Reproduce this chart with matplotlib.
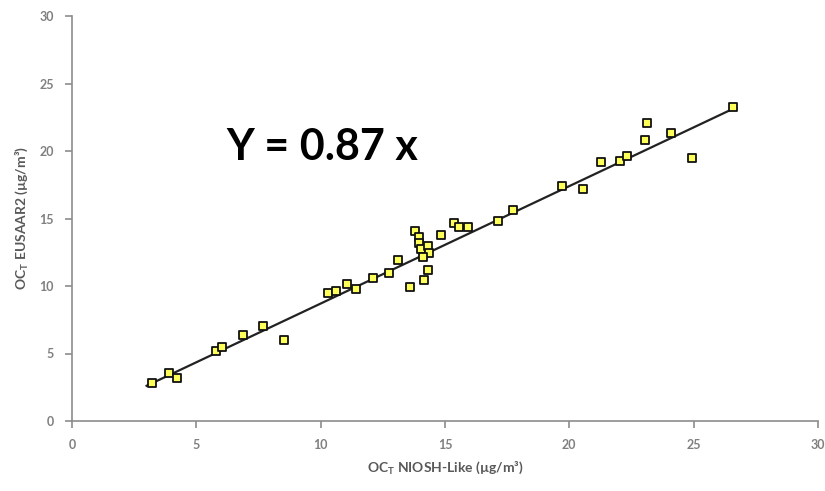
import matplotlib
matplotlib.use("Agg")
import matplotlib.pyplot as plt
import numpy as np

x_niosh = [3.23, 3.91, 4.24, 5.79, 6.02, 6.86, 7.69, 8.54, 10.31, 10.61, 11.04, 11.42,
           12.09, 12.75, 13.12, 13.59, 13.79, 13.95, 13.96, 14.02, 14.33, 14.37, 14.10,
           14.33, 14.15, 14.82, 15.36, 15.56, 15.94, 17.15, 17.72, 19.69, 20.53, 21.27,
           22.03, 22.33, 23.06, 23.14, 24.08, 24.94, 26.59]
y_eusaar = [2.78, 3.55, 3.18, 5.20, 5.50, 6.40, 7.05, 6.00, 9.45, 9.62, 10.15, 9.75,
            10.60, 11.00, 11.90, 9.90, 14.10, 13.65, 13.20, 12.75, 13.00, 12.45, 12.15,
            11.15, 10.45, 13.80, 14.65, 14.35, 14.35, 14.78, 15.65, 17.40, 17.20, 19.20,
            19.25, 19.60, 20.85, 22.10, 21.30, 19.45, 23.25]
slope = 0.87
fit_range = [3.0, 26.7]

ticks = [0, 5, 10, 15, 20, 25, 30]

fig = plt.figure(figsize=(8.25, 4.91), dpi=100)
ax = fig.add_axes([72/825, 70/491, 746/825, 405/491])

fx = np.array(fit_range)
ax.plot(fx, slope * fx, color="#222222", lw=1.6, zorder=2)
ax.scatter(x_niosh, y_eusaar, marker="s", s=34, facecolor="#ffff5a",
           edgecolor="#111111", linewidth=1.3, zorder=3)

ax.set_xlim(0, 30)
ax.set_ylim(0, 30)
ax.set_xticks(ticks)
ax.set_yticks(ticks)
for s in ["top", "right"]:
    ax.spines[s].set_visible(False)
for s in ["left", "bottom"]:
    ax.spines[s].set_color("#8c8c8c")
    ax.spines[s].set_linewidth(1.2)
ax.tick_params(axis="both", direction="out", length=5, width=1.2, color="#8c8c8c",
               labelcolor="#808080", labelsize=9)
for lab in ax.get_xticklabels() + ax.get_yticklabels():
    lab.set_fontweight("bold")
    lab.set_family("Lato")
ax.tick_params(axis="x", pad=8)
ax.tick_params(axis="y", pad=8)

ax.set_xlabel("OC$_\\mathregular{T}$ NIOSH-Like (µg/m³)", fontsize=10, fontweight="bold",
              color="#595959", family="Lato", labelpad=6)
ax.set_ylabel("OC$_\\mathregular{T}$ EUSAAR2 (µg/m³)", fontsize=10, fontweight="bold",
              color="#595959", family="Lato", labelpad=7)

ax.text(6.2, 20.3, "Y = 0.87 x", fontsize=31, fontweight="bold", family="Lato",
        color="black", ha="left", va="center")

fig.savefig("out.png", dpi=100)
